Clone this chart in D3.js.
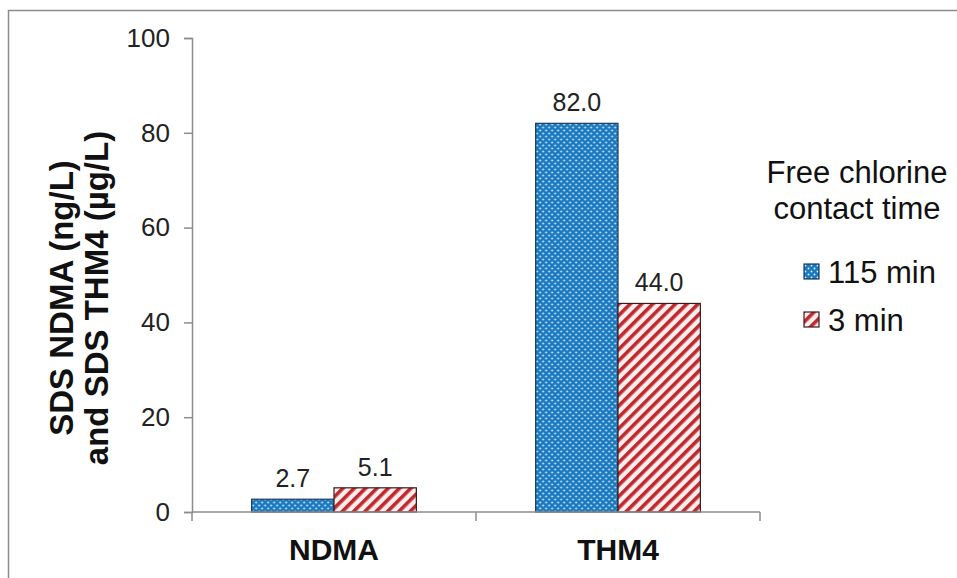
<!DOCTYPE html>
<html><head><meta charset="utf-8">
<script src="https://cdn.jsdelivr.net/npm/d3@7"></script>
<style>body{margin:0;background:#fff;} text{font-family:Arial,"Liberation Sans",sans-serif;}</style>
</head><body><svg id="c" width="957" height="578"></svg>
<script>
const categories = ["NDMA", "THM4"];
const seriesNames = ["115 min", "3 min"];
const values115 = [2.7, 82.0];
const values3 = [5.1, 44.0];
const yTicks = [0, 20, 40, 60, 80, 100];
const legendTitle = ["Free chlorine", "contact time"];
const yTitle = ["SDS NDMA (ng/L)", "and SDS THM4 (\u00b5g/L)"];

const svg = d3.select("#c");
const defs = svg.append("defs");
const dots = defs.append("pattern").attr("id","dots").attr("patternUnits","userSpaceOnUse").attr("width",6).attr("height",6);
dots.append("rect").attr("width",6).attr("height",6).attr("fill","#1878c0");
dots.append("circle").attr("cx",1.5).attr("cy",1.5).attr("r",0.95).attr("fill","#e4f2fb");
dots.append("circle").attr("cx",4.5).attr("cy",4.5).attr("r",0.95).attr("fill","#e4f2fb");
const stripes = defs.append("pattern").attr("id","stripes").attr("patternUnits","userSpaceOnUse").attr("width",8).attr("height",8).attr("patternTransform","rotate(45)");
stripes.append("rect").attr("width",8).attr("height",8).attr("fill","#fdeeee");
stripes.append("rect").attr("x",0).attr("width",3.6).attr("height",8).attr("fill","#c0282d");

// outer border
svg.append("rect").attr("x",8.5).attr("y",10.5).attr("width",960).attr("height",600).attr("fill","none").attr("stroke","#8c8c8c").attr("stroke-width",1.5);

const x0 = d3.scaleBand().domain(categories).range([192, 760]).paddingInner(0.42).paddingOuter(0.21);
const x1 = d3.scaleBand().domain(seriesNames).range([0, x0.bandwidth()]);
const y = d3.scaleLinear().domain([0, 100]).range([512, 38]);

const data = categories.map((c,i)=>({cat:c, vals:[{s:seriesNames[0], v:values115[i]},{s:seriesNames[1], v:values3[i]}]}));
const fills = {"115 min":"url(#dots)","3 min":"url(#stripes)"};
const strokes = {"115 min":"#1d3a5c","3 min":"#3a1a1a"};

// y axis
const yAxis = d3.axisLeft(y).tickValues(yTicks).tickSize(8).tickPadding(14).tickFormat(d3.format("d"));
const ga = svg.append("g").attr("transform","translate(192,0)").call(yAxis);
ga.select(".domain").attr("stroke","#8c8c8c").attr("stroke-width",1.5);
ga.selectAll(".tick line").attr("stroke","#8c8c8c").attr("stroke-width",1.5);
ga.selectAll(".tick text").attr("font-size",26).attr("fill","#222").attr("font-family","Arial, Liberation Sans, sans-serif");

const groups = svg.selectAll("g.cat").data(data).join("g").attr("class","cat").attr("transform",d=>`translate(${x0(d.cat)},0)`);
groups.selectAll("rect").data(d=>d.vals).join("rect")
  .attr("x",d=>x1(d.s)).attr("width",x1.bandwidth())
  .attr("y",d=>y(d.v)).attr("height",d=>y(0)-y(d.v))
  .attr("fill",d=>fills[d.s]).attr("stroke",d=>strokes[d.s]).attr("stroke-width",1.2);
groups.selectAll("text").data(d=>d.vals).join("text")
  .attr("x",d=>x1(d.s)+x1.bandwidth()/2).attr("y",d=>y(d.v)-12)
  .attr("text-anchor","middle").attr("font-size",25).attr("fill","#222")
  .text(d=>d.v.toFixed(1));

// x axis
svg.append("line").attr("x1",192).attr("x2",760).attr("y1",512).attr("y2",512).attr("stroke","#8c8c8c").attr("stroke-width",1.5);
const bounds = [192, (x0(categories[0])+x0.bandwidth()+x0(categories[1]))/2, 760];
svg.selectAll("line.xt").data(bounds).join("line").attr("class","xt")
  .attr("x1",d=>d).attr("x2",d=>d).attr("y1",512).attr("y2",521).attr("stroke","#8c8c8c").attr("stroke-width",1.5);
svg.selectAll("text.cl").data(categories).join("text").attr("class","cl")
  .attr("x",d=>x0(d)+x0.bandwidth()/2).attr("y",560).attr("text-anchor","middle")
  .attr("font-size",30).attr("font-weight","bold").attr("fill","#111").text(d=>d);

// y title
const yt = svg.append("text").attr("transform","translate(0,298) rotate(-90)").attr("text-anchor","middle")
  .attr("font-size",33).attr("font-weight","bold").attr("fill","#111");
yt.append("tspan").attr("x",0).attr("y",73).text(yTitle[0]);
yt.append("tspan").attr("x",0).attr("y",108).text(yTitle[1]);

// legend
svg.selectAll("text.lt").data(legendTitle).join("text").attr("class","lt")
  .attr("x",857).attr("y",(d,i)=>183+i*36).attr("text-anchor","middle")
  .attr("font-size",31).attr("fill","#111").text(d=>d);
const lg = svg.selectAll("g.lg").data(seriesNames).join("g").attr("class","lg")
  .attr("transform",(d,i)=>`translate(804,${i*48})`);
lg.append("rect").attr("x",0).attr("y",264).attr("width",15).attr("height",15)
  .attr("fill",d=>fills[d]).attr("stroke",d=>strokes[d]).attr("stroke-width",1.2);
lg.append("text").attr("x",24).attr("y",283).attr("font-size",31).attr("fill","#111").text(d=>d);
</script></body></html>
